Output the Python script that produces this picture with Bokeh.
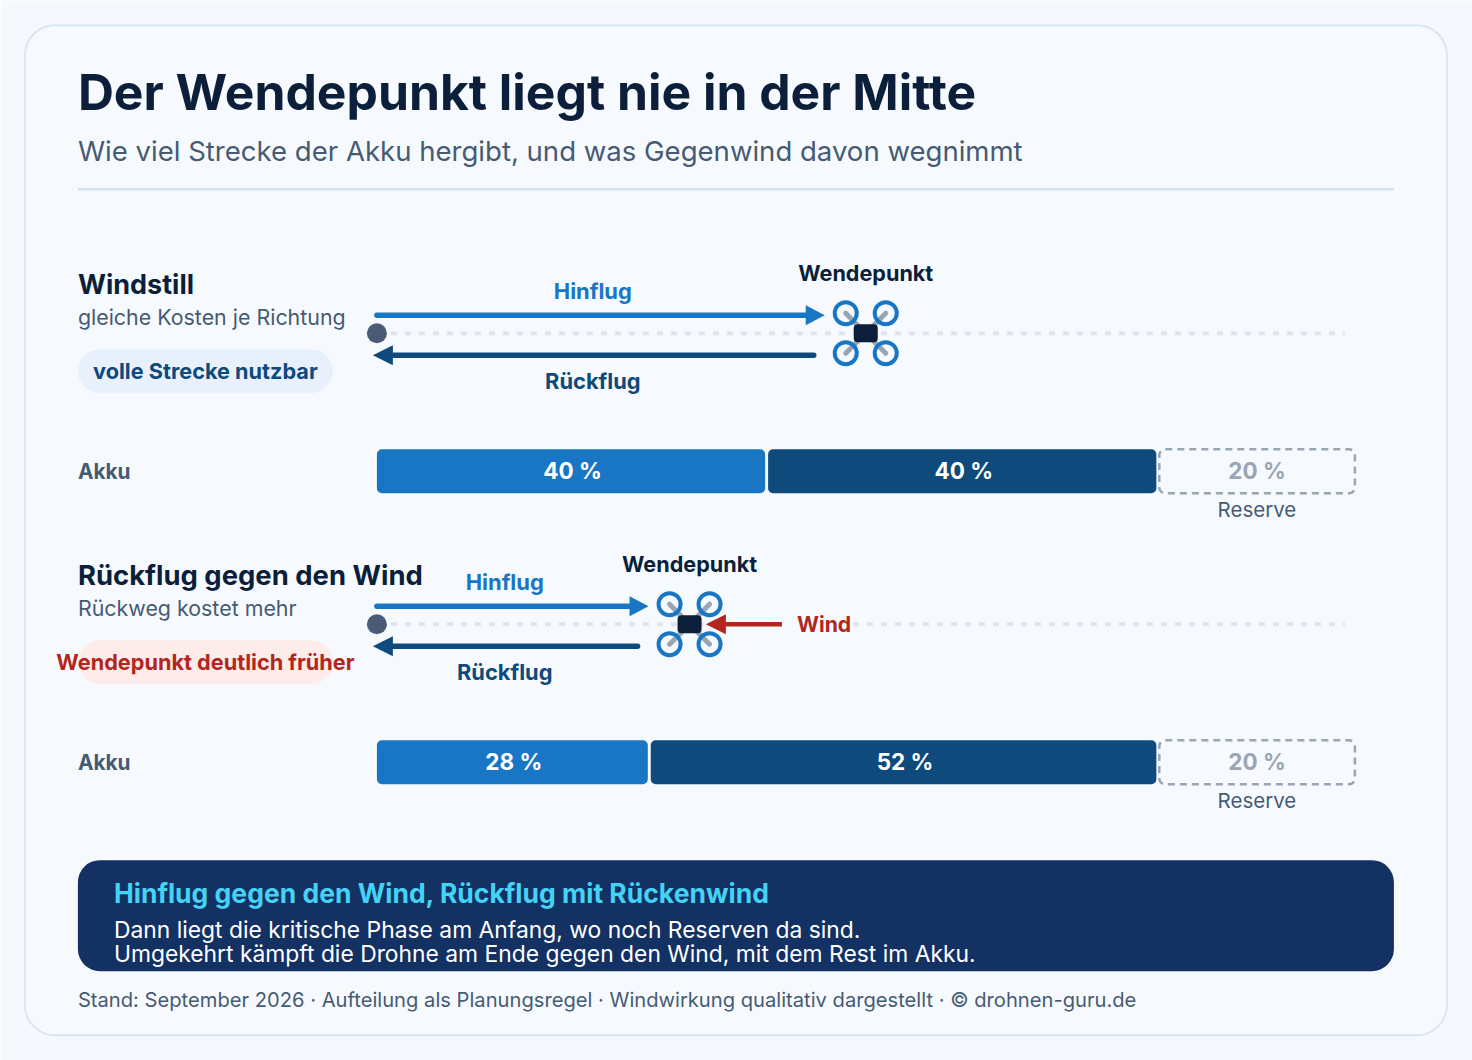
from bokeh.plotting import figure
from bokeh.models import Range1d
from bokeh.core.properties import value
from bokeh.embed import file_html
from bokeh.resources import INLINE

# ---- data ----
scenario_names = ["Windstill", "Rückflug gegen den Wind"]
scenario_subs = ["gleiche Kosten je Richtung", "Rückweg kostet mehr"]
scenario_badges = ["volle Strecke nutzbar", "Wendepunkt deutlich früher"]
outbound_pct = [40, 28]
return_pct = [40, 52]
reserve_pct = [20, 20]
turn_track_pct = [50.5, 32.3]   # Wendepunkt position along the route track

title = "Der Wendepunkt liegt nie in der Mitte"
subtitle = "Wie viel Strecke der Akku hergibt, und was Gegenwind davon wegnimmt"
callout_head = "Hinflug gegen den Wind, Rückflug mit Rückenwind"
callout_lines = ["Dann liegt die kritische Phase am Anfang, wo noch Reserven da sind.",
                 "Umgekehrt kämpft die Drohne am Ende gegen den Wind, mit dem Rest im Akku."]
footer = "Stand: September 2026 · Aufteilung als Planungsregel · Windwirkung qualitativ dargestellt · © drohnen-guru.de"

# ---- style ----
BG = "#f5f9fe"; CARD = "#f6fafe"; EDGE = "#dbe6f1"; INK = "#0b1f3a"; SLATE = "#475a73"
BLUE = "#1976c5"; NAVY = "#0f4a7c"; GREY = "#9aa5b4"; RED = "#b3261e"; DOT = "#dde5ef"
SANS = "Inter"; HEAD = "Inter"
BASE_FIX = 0.39  # svg baseline shift, in font sizes
OFF = 0.6        # sub-pixel alignment of the canvas

p = figure(width=1472, height=1060, x_range=Range1d(OFF, 1472 + OFF), y_range=Range1d(1060 + OFF / 2, OFF / 2),
           output_backend="svg", toolbar_location=None, min_border=0,
           background_fill_color=BG, border_fill_color=BG, outline_line_color=None)
p.axis.visible = False
p.grid.visible = False

# battery scale: 0..100 % across the bar track
B0, BW = 377.0, 978.0
p.extra_x_ranges["pct"] = Range1d((OFF - B0) / BW * 100, (1472 + OFF - B0) / BW * 100)


def txt(x, y, s, size, color, bold=False, align="left", font=SANS, **kw):
    p.text(x=[x], y=[y - BASE_FIX * size], text=[s], text_font=value(font), text_font_size=f"{size}px",
           text_color=color, text_font_style="bold" if bold else "normal", text_align=align,
           text_baseline="alphabetic", **kw)


def tri(tip, base, y, half, color):
    p.patch([tip, base, base], [y, y - half, y + half], fill_color=color, line_color=None)


# card
p.quad(left=[25], right=[1447], top=[25], bottom=[1035], fill_color=CARD, line_color=EDGE,
       line_width=2, border_radius=30)

txt(78, 111.5, title, 49.8, INK, bold=True, font=HEAD)
txt(78, 162, subtitle, 27.55, SLATE)
p.line([78, 1394], [189, 189], line_color="#d6e2ef", line_width=2.5)

ROW = 291
badge_fill = ["#e8f1fb", "#fdecea"]
badge_text = [NAVY, RED]
T0, TW = 377.0, 968.0
name_size = [27, 27.45]

for i in range(2):
    dy = i * ROW
    tx = T0 + turn_track_pct[i] / 100 * TW

    # left column
    txt(78, 294.5 + dy, scenario_names[i], name_size[i], INK, bold=True, font=HEAD)
    txt(78, 325 + dy, scenario_subs[i], 21.4, SLATE)
    p.quad(left=[78], right=[333], top=[349 + dy], bottom=[393 + dy], fill_color=badge_fill[i],
           line_color=None, border_radius=22)
    txt(205.5, 379 + dy, scenario_badges[i], 21.7, badge_text[i], bold=True, align="center")

    # route
    p.line([391, 1345], [333 + dy, 333 + dy], line_color=DOT, line_width=4, line_dash=[6, 8])
    if i == 1:
        p.quad(left=[tx + 14], right=[852], top=[320 + dy], bottom=[346 + dy], fill_color=CARD, line_color=None)
    p.scatter([377], [333 + dy], size=20, marker="circle", fill_color="#4a5b78", line_color=None)

    p.line([377, tx - 60], [315 + dy, 315 + dy], line_color=BLUE, line_width=5.5, line_cap="round")
    tri(tx - 41, tx - 60, 315 + dy, 10, BLUE)
    p.line([392, tx - 52], [355 + dy, 355 + dy], line_color=NAVY, line_width=5.5, line_cap="round")
    tri(373, 393, 355 + dy, 10, NAVY)

    mid = (377 + tx - 41) / 2 - 8
    txt(mid, 299 + dy, "Hinflug", 21.9, BLUE, bold=True, align="center")
    txt(mid, 389 + dy, "Rückflug", 21.85, NAVY, bold=True, align="center")
    txt(tx, 281 + dy, "Wendepunkt", 21.6, INK, bold=True, align="center")

    # drone
    cy = 333 + dy
    for sx, sy in [(-1, -1), (1, -1), (-1, 1), (1, 1)]:
        p.line([tx, tx + sx * 20], [cy, cy + sy * 20], line_color=GREY, line_width=5, line_cap="round")
    p.scatter([tx - 20, tx + 20, tx - 20, tx + 20], [cy - 20, cy - 20, cy + 20, cy + 20], size=22,
              marker="circle", fill_color=None, line_color=BLUE, line_width=4)
    p.quad(left=[tx - 12], right=[tx + 12], top=[cy - 9], bottom=[cy + 9], fill_color=INK,
           line_color=None, border_radius=4)

    if i == 1:
        p.line([782, 722], [cy, cy], line_color=RED, line_width=4.5)
        tri(706, 726, cy, 10, RED)
        txt(797, cy + 8, "Wind", 21.2, RED, bold=True)

    # battery bars
    a, b, r = outbound_pct[i], return_pct[i], reserve_pct[i]
    top, bot = 449 + dy, 493 + dy
    gap = 0.3
    p.quad(left=[0], right=[a - gap], top=[top], bottom=[bot], x_range_name="pct", fill_color=BLUE,
           line_color=None, border_radius=5)
    p.quad(left=[a], right=[a + b - gap], top=[top], bottom=[bot], x_range_name="pct", fill_color=NAVY,
           line_color=None, border_radius=5)
    p.quad(left=[a + b], right=[a + b + r], top=[top], bottom=[bot], x_range_name="pct", fill_color=None,
           line_color=GREY, line_width=2.5, line_dash=value([7, 5]), border_radius=6)
    for val, lft, col in [(a, 0, "white"), (b, a, "white"), (r, a + b, GREY)]:
        p.text(x=[lft + val / 2], y=[479.5 + dy - BASE_FIX * 22.5], text=[f"{val} %"], x_range_name="pct",
               text_font=value(HEAD), text_font_size="22.5px", text_font_style="bold", text_color=col,
               text_align="center", text_baseline="alphabetic")
    txt(78, 479 + dy, "Akku", 20.8, SLATE, bold=True)
    txt(1257, 517 + dy, "Reserve", 20.5, SLATE, align="center")

# callout
p.quad(left=[78], right=[1394], top=[860], bottom=[971], fill_color="#133163", line_color=None, border_radius=22)
txt(114, 903, callout_head, 26.5, "#45d3f5", bold=True, font=HEAD)
txt(114, 939, callout_lines[0], 22.85, "white")
txt(114, 963, callout_lines[1], 22.85, "white")
txt(78, 1007, footer, 20.16, SLATE)

open("out.html", "w").write(file_html(p, INLINE))
